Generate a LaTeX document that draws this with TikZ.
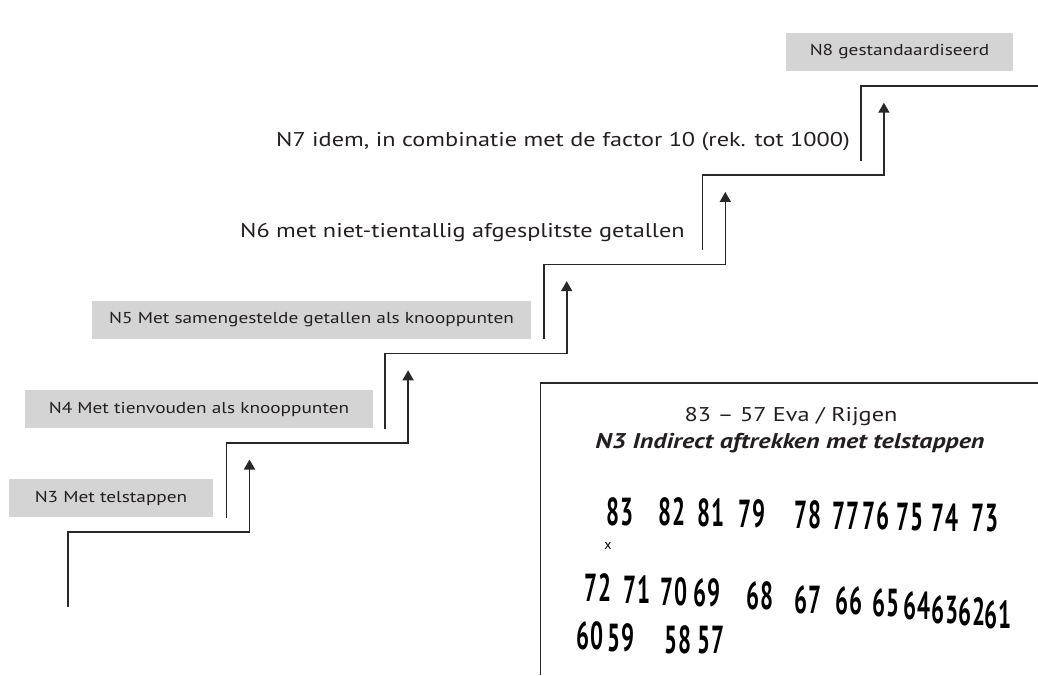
\documentclass[tikz,border=0pt]{standalone}
\usepackage{fontspec}
\setmainfont{PT Sans}[FakeStretch=1.22]
\newfontfamily\handfont{PT Sans}
\usepackage{graphicx}
\usetikzlibrary{arrows.meta,positioning}
\definecolor{ink}{RGB}{35,31,32}
\definecolor{rule}{RGB}{40,40,40}
\definecolor{shade}{RGB}{212,212,212}
\tikzset{
  >={Triangle[width=11pt,length=10pt]},
  levelbox/.style={fill=shade,text=ink,inner sep=0pt,minimum height=38pt,
    minimum width=#1,font=\fontsize{15.8}{18}\selectfont},
  leveltext/.style={text=ink,inner sep=0pt,font=\fontsize{19.9}{23}\selectfont},
  stair/.style={draw=rule,line width=1.6pt},
  hand/.style={inner sep=0pt,text=black,font=\handfont\fontsize{23}{23}\selectfont\bfseries},
}

\begin{document}
\begin{tikzpicture}[x=1pt,y=-1pt]
    \useasboundingbox (0,0) rectangle (1038,675);
    % levels
    \node[levelbox=204pt] (lvl3) at (111,498) {N3 Met telstappen};
    \node[levelbox=348pt] (lvl4) at (199,409) {N4 Met tienvouden als knooppunten};
    \node[levelbox=439pt] (lvl5) at (311.5,320) {N5 Met samengestelde getallen als knooppunten};
    \node[leveltext,anchor=base west] (lvl6) at (240,237) {N6 met niet-tientallig afgesplitste getallen};
    \node[leveltext,anchor=base west] (lvl7) at (276,146) {N7 idem, in combinatie met de factor 10 (rek. tot 1000)};
    \node[levelbox=227pt] (lvl8) at (899.5,52) {N8 gestandaardiseerd};
    % stairs
    \foreach \i in {0,...,5}{
      \coordinate (foot\i) at (68+158.6*\i,607-89.2*\i);
      \coordinate (tread\i) at (68+158.6*\i,532-89.2*\i);
      \coordinate (tip\i) at (249.5+158.6*\i,459.5-89.2*\i);
    }
    \foreach \i in {0,...,4}
      \draw[stair,->] (foot\i) -- (tread\i) -| (tip\i);
    \coordinate (edge) at (1038,86);
    \draw[stair] (foot5) -- (tread5) -- (edge);
    % example box
    \coordinate (boxtop) at (1038,383);
    \coordinate (boxfoot) at (540.5,675);
    \draw[stair] (boxtop) -| (boxfoot);
    \node[leveltext,font=\fontsize{19.9}{23}\selectfont,anchor=base] (head) at (791,421) {83 -- 57 Eva / Rijgen};
    \node[leveltext,font=\fontsize{21.3}{24}\selectfont\bfseries\itshape,anchor=base] (title) at (790,448) {N3 Indirect aftrekken met telstappen};
    \foreach \n/\x/\y [count=\k] in {83/620/512,82/672/512,81/711/513,79/752/514,78/808/515,77/846/516,76/876/516,75/910/517,74/945/518,73/985/518,
      72/598/588,71/637/590,70/674/592,69/707/593,68/760/596,67/808/600,66/849/601,65/886/603,64/917/606,63/945/610,62/972/612,61/998/615,
      60/590/636,59/621/638,58/678/640,57/711/640}
      \node[hand] (h\k) at (\x,\y) {\scalebox{1}[1.7]{\n}};
    \node[hand,font=\handfont\fontsize{14}{14}\selectfont] (cross) at (608,546) {x};
\end{tikzpicture}
\end{document}
